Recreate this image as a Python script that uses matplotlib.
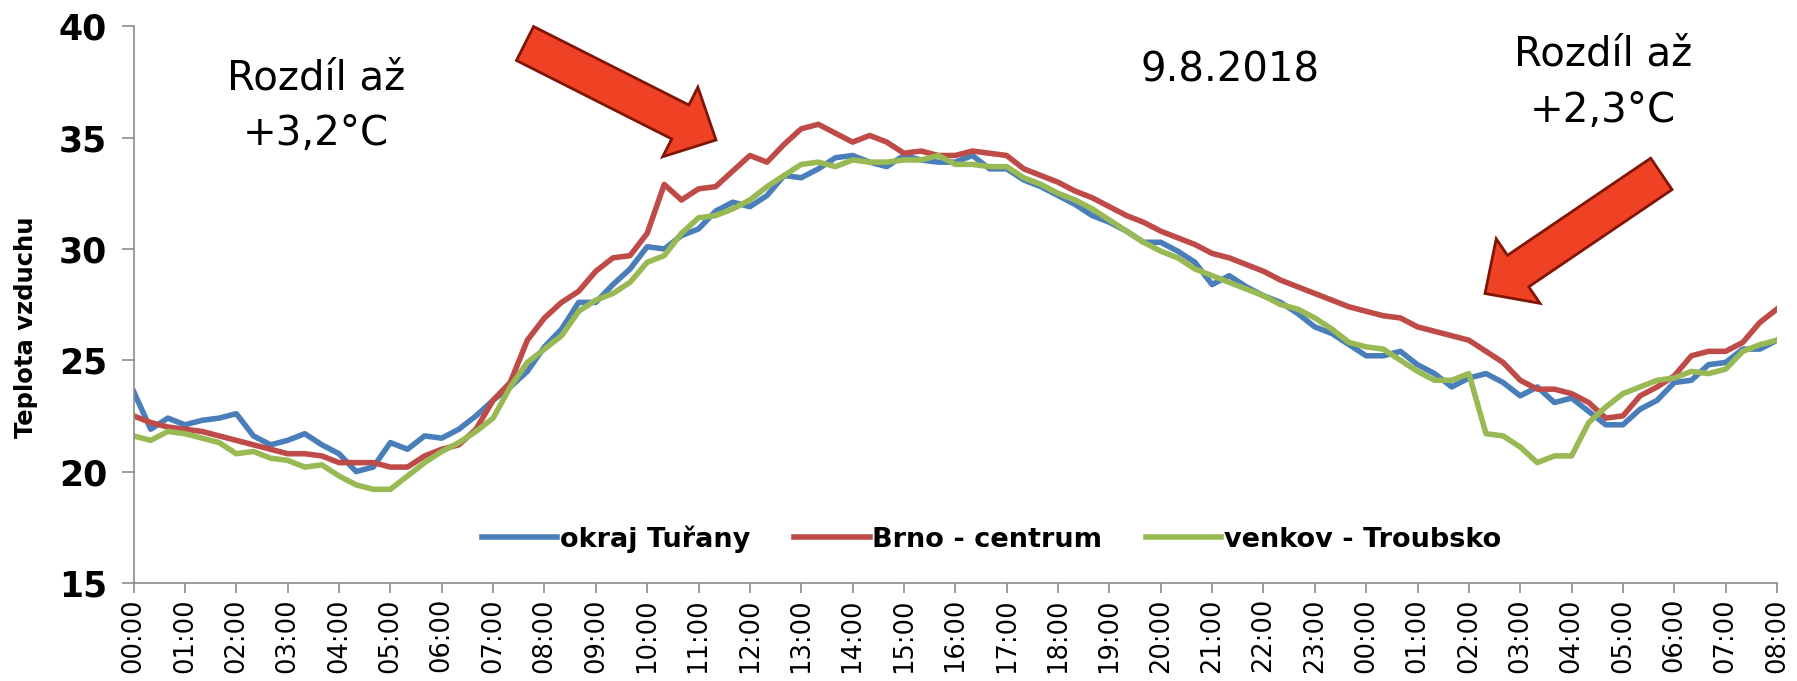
import numpy as np
import matplotlib
matplotlib.use("Agg")
from matplotlib import pyplot as plt
from matplotlib.patches import Polygon

# air temperature, 20 min step, 9.8.2018 00:00 -> 10.8.2018 08:00
turany = [23.6, 21.9, 22.4, 22.1, 22.3, 22.4, 22.6, 21.6, 21.2, 21.4, 21.7, 21.2, 20.8, 20.0,
          20.2, 21.3, 21.0, 21.6, 21.5, 21.9, 22.5, 23.2, 23.8, 24.5, 25.6, 26.4, 27.6, 27.6,
          28.4, 29.1, 30.1, 30.0, 30.6, 30.9, 31.7, 32.1, 31.9, 32.4, 33.3, 33.2, 33.6, 34.1,
          34.2, 33.9, 33.7, 34.2, 34.0, 33.9, 33.9, 34.2, 33.6, 33.6, 33.1, 32.8, 32.4, 32.0,
          31.5, 31.2, 30.8, 30.3, 30.3, 29.9, 29.4, 28.4, 28.8, 28.3, 27.9, 27.6, 27.1,
          26.5, 26.2, 25.7, 25.2, 25.2, 25.4, 24.8, 24.4, 23.8, 24.2, 24.4, 24.0, 23.4, 23.8,
          23.1, 23.3, 22.7, 22.1, 22.1, 22.8, 23.2, 24.0, 24.1, 24.8, 24.9, 25.5, 25.5, 25.9]
centrum = [22.5, 22.2, 22.0, 21.9, 21.8, 21.6, 21.4, 21.2, 21.0, 20.8, 20.8, 20.7, 20.4, 20.4,
           20.4, 20.2, 20.2, 20.7, 21.0, 21.2, 21.9, 23.2, 24.0, 25.9, 26.9, 27.6, 28.1, 29.0,
           29.6, 29.7, 30.7, 32.9, 32.2, 32.7, 32.8, 33.5, 34.2, 33.9, 34.7, 35.4, 35.6, 35.2,
           34.8, 35.1, 34.8, 34.3, 34.4, 34.2, 34.2, 34.4, 34.3, 34.2, 33.6, 33.3, 33.0, 32.6,
           32.3, 31.9, 31.5, 31.2, 30.8, 30.5, 30.2, 29.8, 29.6, 29.3, 29.0, 28.6, 28.3,
           28.0, 27.7, 27.4, 27.2, 27.0, 26.9, 26.5, 26.3, 26.1, 25.9, 25.4, 24.9, 24.1, 23.7,
           23.7, 23.5, 23.1, 22.4, 22.5, 23.4, 23.8, 24.3, 25.2, 25.4, 25.4, 25.8, 26.7, 27.3]
troubsko = [21.6, 21.4, 21.8, 21.7, 21.5, 21.3, 20.8, 20.9, 20.6, 20.5, 20.2, 20.3, 19.8, 19.4,
            19.2, 19.2, 19.8, 20.4, 20.9, 21.3, 21.8, 22.4, 23.8, 24.9, 25.5, 26.1, 27.2, 27.7,
            28.0, 28.5, 29.4, 29.7, 30.7, 31.4, 31.5, 31.8, 32.2, 32.8, 33.3, 33.8, 33.9, 33.7,
            34.0, 33.9, 33.9, 34.0, 34.0, 34.2, 33.8, 33.8, 33.7, 33.7, 33.2, 32.9, 32.5, 32.2,
            31.8, 31.3, 30.8, 30.3, 29.9, 29.6, 29.1, 28.8, 28.5, 28.2, 27.9, 27.5, 27.3,
            26.9, 26.4, 25.8, 25.6, 25.5, 25.0, 24.5, 24.1, 24.1, 24.4, 21.7, 21.6, 21.1, 20.4,
            20.7, 20.7, 22.2, 22.9, 23.5, 23.8, 24.1, 24.2, 24.5, 24.4, 24.6, 25.4, 25.7, 25.9]

series_names = ["okraj Tuřany", "Brno - centrum", "venkov - Troubsko"]
series_colors = ["#4A7EBB", "#BE4B48", "#98B954"]

tick_hours = list(range(0, 33))
tick_labels = ["%02d:00" % (h % 24) for h in tick_hours]

W, H = 1797, 681
fig = plt.figure(figsize=(W / 100, H / 100), dpi=100)
ax = fig.add_axes([133.6 / W, 1 - 582.8 / H, (1777 - 133.6) / W, (582.8 - 26.4) / H])

hours = np.arange(len(turany)) / 3.0
for vals, name, col in zip([turany, centrum, troubsko], series_names, series_colors):
    ax.plot(hours, vals, color=col, lw=4, label=name, solid_joinstyle="round")

ax.set_xlim(0, 32)
ax.set_ylim(15, 40)
ax.set_yticks([15, 20, 25, 30, 35, 40])
ax.set_xticks(tick_hours)
ax.set_xticklabels(tick_labels, rotation=90, fontsize=18.5)
for lab in ax.get_yticklabels():
    lab.set_fontweight("bold")
    lab.set_fontsize(25)

for s in ["top", "right"]:
    ax.spines[s].set_visible(False)
for s in ["left", "bottom"]:
    ax.spines[s].set_color("#8C8C8C")
    ax.spines[s].set_linewidth(1.2)
ax.tick_params(axis="y", direction="out", length=9, width=1.2, color="#8C8C8C", pad=10)
ax.tick_params(axis="x", direction="out", length=7, width=1.2, color="#8C8C8C", pad=4)

leg = ax.legend(loc="center", bbox_to_anchor=(0.522, 0.079), ncol=3, frameon=False,
                handlelength=2.8, handletextpad=0.1, columnspacing=1.6,
                prop={"weight": "bold", "size": 19.5})


def px(x, y):
    return x / W, 1 - y / H


fig.text(*px(25.8, 327), "Teplota vzduchu", rotation=90, ha="center", va="center",
         fontsize=17.5, fontweight="bold")

txt = dict(ha="center", va="center", fontsize=29, color="black")
fig.text(*px(316, 78), "Rozdíl až", **txt)
fig.text(*px(316, 134), "+3,2°C", **txt)
fig.text(*px(1603, 54), "Rozdíl až", **txt)
fig.text(*px(1603, 111), "+2,3°C", **txt)
fig.text(*px(1230, 71), "9.8.2018", **txt)


def block_arrow(tail, tip, shaft_w, head_w, head_len):
    tail = np.array(tail, float)
    tip = np.array(tip, float)
    u = (tip - tail) / np.hypot(*(tip - tail))
    n = np.array([-u[1], u[0]])
    base = tip - u * head_len
    pts = [tail + n * shaft_w / 2, base + n * shaft_w / 2, base + n * head_w / 2, tip,
           base - n * head_w / 2, base - n * shaft_w / 2, tail - n * shaft_w / 2]
    pts = [px(p[0], p[1]) for p in pts]
    fig.patches.append(Polygon(pts, closed=True, transform=fig.transFigure,
                               facecolor="#EF4123", edgecolor="#7F1505", lw=2, zorder=5))


block_arrow((525, 43.5), (716, 140), 38, 78, 40)
block_arrow((1661.4, 173.9), (1485, 293.5), 38, 78, 40)

fig.savefig("out.png", dpi=100)
